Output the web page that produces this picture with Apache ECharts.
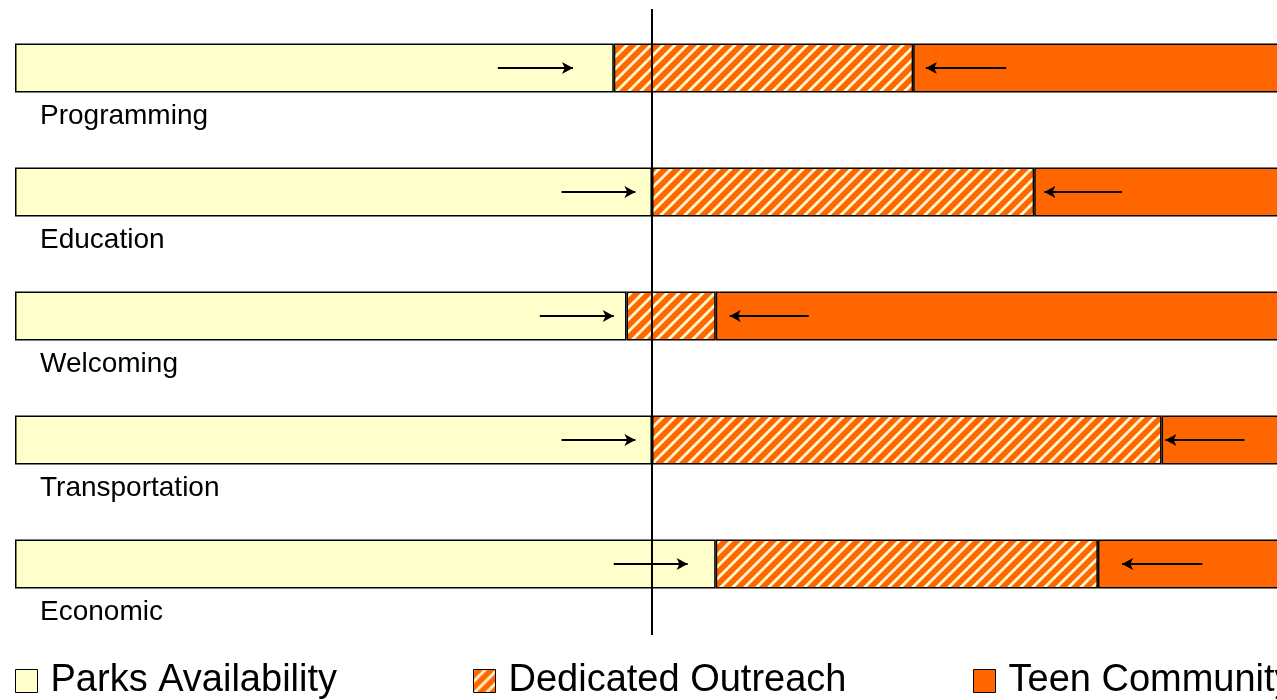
<!DOCTYPE html>
<html>
<head>
<meta charset="utf-8">
<script src="https://cdn.jsdelivr.net/npm/echarts@6/dist/echarts.min.js"></script>
<style>
html,body{margin:0;padding:0;background:#fff;}
#chart{width:1277px;height:700px;}
</style>
</head>
<body>
<div id="chart"></div>
<script>
// ---- data ----
var categories = ['Programming', 'Education', 'Welcoming', 'Transportation', 'Economic'];
var parksAvailability = [47, 50, 48, 50, 55];
var dedicatedOutreach = [23.5, 30, 7, 40, 30];
var teenCommunity = [29.5, 20, 45, 10, 15];
// arrow start / end values (percent of bar)
var parksArrowFrom = [37.9, 42.9, 41.2, 42.9, 47.0];
var parksArrowTo = [43.8, 48.7, 47.0, 48.7, 52.8];
var teenArrowFrom = [77.8, 86.9, 62.3, 96.5, 93.2];
var teenArrowTo = [71.5, 80.8, 56.1, 90.3, 86.9];
var dividerValue = 50;
var visibleMax = 99.06; // the picture is cropped just before the 100% end
var seriesNames = ['Parks Availability', 'Dedicated Outreach', 'Teen Community'];

// ---- hatch pattern ----
function makeHatch() {
  var c = document.createElement('canvas');
  c.width = 12; c.height = 12;
  var ctx = c.getContext('2d');
  ctx.fillStyle = '#FF6600';
  ctx.fillRect(0, 0, 12, 12);
  ctx.strokeStyle = '#FFF8C8';
  ctx.lineWidth = 2.8;
  [0, 12, 24].forEach(function (k) {
    ctx.beginPath();
    ctx.moveTo(-3, k + 3);
    ctx.lineTo(k + 3, -3);
    ctx.stroke();
  });
  return c;
}
var hatch = { image: makeHatch(), repeat: 'repeat' };

var arrowLines = [];
categories.forEach(function (cat, i) {
  arrowLines.push([{ coord: [parksArrowFrom[i], cat] }, { coord: [parksArrowTo[i], cat] }]);
  arrowLines.push([{ coord: [teenArrowFrom[i], cat] }, { coord: [teenArrowTo[i], cat] }]);
});

var FONT = '"Liberation Sans", Arial, sans-serif';
var chart = echarts.init(document.getElementById('chart'), null, { renderer: 'canvas' });

var legendBase = function (left, name) {
  return {
    left: left, top: 657, orient: 'horizontal',
    data: [name],
    itemWidth: 22, itemHeight: 23,
    icon: 'rect',
    itemStyle: { borderColor: '#000', borderWidth: 1 },
    textStyle: { fontFamily: FONT, fontSize: 38, color: '#000', padding: [0, 0, 0, 8], lineHeight: 38 },
    selectedMode: false
  };
};

chart.setOption({
  animation: false,
  backgroundColor: '#fff',
  grid: [
    { left: 15, right: 0, top: 6, bottom: 74, containLabel: false },
    { left: 15, right: 0, top: 9, bottom: 65, containLabel: false }
  ],
  legend: [
    legendBase(10, seriesNames[0]),
    legendBase(468, seriesNames[1]),
    legendBase(968, seriesNames[2])
  ],
  xAxis: [
    { type: 'value', min: 0, max: visibleMax, show: false, gridIndex: 0 },
    { type: 'value', min: 0, max: visibleMax, show: false, gridIndex: 1 }
  ],
  yAxis: [
    { type: 'category', data: categories, inverse: true, show: false, gridIndex: 0 },
    { type: 'value', min: 0, max: 1, show: false, gridIndex: 1 }
  ],
  series: [
    {
      name: seriesNames[0], type: 'bar', stack: 'total', barWidth: 49,
      data: parksAvailability,
      itemStyle: { color: '#FFFFCC', borderColor: '#000', borderWidth: 1.5 },
      label: {
        show: true, position: [25, 73], formatter: '{b}',
        fontFamily: FONT, fontSize: 28, color: '#000',
        align: 'left', verticalAlign: 'middle'
      },
      emphasis: { disabled: true },
      markLine: {
        silent: true,
        symbol: ['none', 'arrow'],
        symbolSize: [9, 11],
        lineStyle: { color: '#000', width: 2, type: 'solid' },
        label: { show: false },
        emphasis: { disabled: true },
        data: arrowLines,
        z: 5
      }
    },
    {
      name: seriesNames[1], type: 'bar', stack: 'total', barWidth: 49,
      data: dedicatedOutreach,
      itemStyle: { color: hatch, borderColor: '#000', borderWidth: 1.5 },
      emphasis: { disabled: true }
    },
    {
      name: seriesNames[2], type: 'bar', stack: 'total', barWidth: 49,
      data: teenCommunity, clip: false,
      itemStyle: { color: '#FF6600', borderColor: '#000', borderWidth: 1.5 },
      emphasis: { disabled: true }
    },
    {
      name: 'divider', type: 'line', xAxisIndex: 1, yAxisIndex: 1,
      data: [[dividerValue, 0], [dividerValue, 1]],
      symbol: 'none', z: 10,
      lineStyle: { color: '#000', width: 2 },
      silent: true
    }
  ]
});
</script>
</body>
</html>
